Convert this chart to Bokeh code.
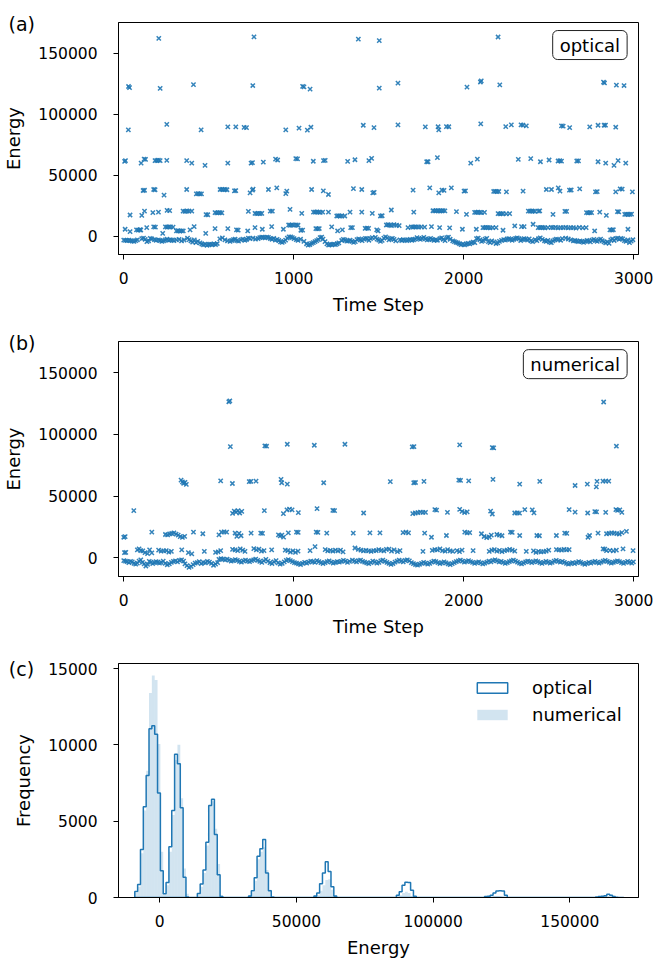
from bokeh.plotting import figure
from bokeh.models import Range1d, FixedTicker, BasicTickFormatter, Label, Legend, LegendItem
from bokeh.layouts import column
from bokeh.embed import file_html
from bokeh.resources import INLINE

BLUE = "#1f77b4"
FONT = "DejaVu Sans"

# ---------------- panel (a): optical, (time step, energy) per energy level ----------------
opt_L7 = [(206,162300),(766,163500),(1380,161700),(1503,160500),(2202,163400)]
opt_L6 = [(28,122800),(34,121900),(214,121200),(410,124400),(759,123600),(1052,122900),(1060,122500),
          (1096,120600),(1503,121400),(1613,125500),(2019,122300),(2098,126500),(2103,127400),(2212,124200),
          (2822,126400),(2828,125700),(2898,123900),(2943,123600)]
opt_L5 = [(27,87200),(253,91800),(455,87200),(612,89700),(659,89700),(708,89300),(722,89000),(953,87200),
          (1031,88600),(1080,87000),(1101,89400),(1409,91000),(1472,89100),(1613,91300),(1774,89700),
          (1849,89800),(1853,87200),(1898,89900),(1912,89800),(2100,92100),(2247,89900),(2280,91300),
          (2337,91400),(2348,91200),(2368,90500),(2575,90500),(2585,90300),(2623,89100),(2741,89700),
          (2790,91000),(2826,91000),(2834,91100),(2894,89400)]
opt_L4 = [(5,61400),(10,62000),(102,60000),(120,63300),(128,63000),(184,62000),(194,62100),(204,62300),
          (214,62000),(253,62200),(370,62000),(400,60000),(478,58100),(612,60000),(749,60000),(757,60300),
          (821,60800),(893,63300),(905,62500),(1012,63600),(1022,63400),(1115,61500),(1175,62000),
          (1185,62200),(1317,61400),(1360,62700),(1442,62000),(1458,63900),(1782,61100),(1790,61100),
          (1845,64400),(2041,60000),(2080,63300),(2321,63000),(2394,63600),(2451,61100),(2502,62500),
          (2555,61700),(2565,61900),(2575,61600),(2665,61700),(2675,61800),(2790,61100),(2835,60000),
          (2884,58100),(2908,62000),(2953,60000)]
opt_L3 = [(114,37500),(122,37700),(176,38300),(184,38100),(237,33700),(370,38300),(427,34800),(437,34900),
          (447,34700),(457,34800),(567,38300),(577,38400),(587,38200),(597,38300),(607,38100),(651,37200),
          (659,37400),(743,35600),(757,37800),(761,38600),(851,38300),(900,39700),(953,35000),(959,37000),
          (1105,38300),(1174,37200),(1204,34200),(1351,39100),(1400,38300),(1465,35600),(1473,35900),
          (1702,37800),(1800,39700),(1853,35600),(1872,37800),(1884,37600),(1927,39700),(2002,37000),
          (2010,37200),(2176,36700),(2186,36800),(2196,36600),(2206,36700),(2251,36400),(2349,37000),
          (2486,38300),(2516,38300),(2556,39700),(2566,37000),(2622,37800),(2632,37900),(2682,38900),
          (2775,36400),(2785,36600),(2894,36400),(2920,38900),(2932,38700),(2992,36400)]
opt_L2 = [(37,17400),(106,17100),(122,20600),(171,19300),(204,19800),(255,21200),(270,21000),(349,20600),
          (360,20400),(372,20700),(384,20500),(400,20600),(484,17700),(494,17600),(537,19300),(547,19200),
          (557,19400),(567,19300),(577,19100),(733,20400),(772,18700),(782,18500),(792,18800),(802,18600),
          (812,18700),(862,20600),(874,20500),(978,22000),(1047,18700),(1116,19800),(1126,19700),
          (1136,19900),(1146,19800),(1156,19600),(1170,19800),(1204,19800),(1253,16600),(1263,16800),
          (1273,16500),(1283,16700),(1300,16600),(1331,19800),(1400,19800),(1462,18700),(1510,16600),
          (1520,16800),(1574,21500),(1706,19800),(1819,20900),(1829,20800),(1839,21000),(1849,20900),
          (1859,20700),(1869,20900),(1879,21000),(1889,20800),(1957,20100),(2016,17900),(2064,19600),
          (2074,19500),(2084,19700),(2094,19600),(2104,19400),(2122,19600),(2202,18500),(2212,18400),
          (2222,18600),(2232,18500),(2250,18300),(2270,18500),(2380,20600),(2390,20500),(2400,20700),
          (2410,20600),(2420,20400),(2440,20600),(2447,20800),(2525,17900),(2595,20400),(2605,20300),
          (2722,19300),(2732,19200),(2742,19400),(2752,19300),(2800,19800),(2839,17100),(2904,20100),
          (2912,20000),(2947,17900),(2957,18000),(2967,17800),(2977,17900),(2987,18100)]
opt_L1 = [(8,5700),(37,3800),(75,5200),(85,5000),(95,5300),(100,5100),(135,7100),(176,7600),(186,7500),
          (229,2400),(245,7600),(255,7500),(265,7700),(275,7600),(290,7400),(310,4300),(320,4500),
          (330,4200),(340,4400),(350,4300),(390,5200),(414,7900),(482,2400),(537,6200),(612,6200),
          (663,5200),(673,5000),(729,4300),(772,7100),(815,5700),(870,7900),(939,5700),(970,9200),
          (980,9000),(990,9300),(1000,9100),(1015,9200),(1025,9000),(1042,4900),(1052,5000),(1130,6200),
          (1140,6100),(1150,6300),(1223,7600),(1258,4300),(1286,5200),(1335,7100),(1345,7000),(1420,6500),
          (1430,6600),(1440,6400),(1488,5200),(1496,4300),(1545,9200),(1555,9500),(1565,9100),(1575,8800),
          (1590,9400),(1605,9000),(1620,8700),(1672,7100),(1692,7600),(1702,7500),(1712,7700),(1722,7600),
          (1735,7400),(1750,7700),(1770,7500),(1810,7900),(1858,7100),(1917,6800),(1992,5700),(2074,5700),
          (2113,7100),(2123,7000),(2133,7200),(2143,7100),(2155,6900),(2170,7100),(2190,7000),(2231,4900),
          (2300,8400),(2340,7900),(2355,7800),(2408,9800),(2438,7100),(2448,7000),(2458,7200),(2468,7100),
          (2478,6900),(2495,7100),(2515,7200),(2526,7000),(2540,7300),(2555,6900),(2570,7100),(2585,7000),
          (2600,7200),(2615,6800),(2630,7100),(2645,7000),(2660,6700),(2680,7200),(2700,6900),(2720,7100),
          (2770,4300),(2860,5200),(2870,5100),(2880,5300),(2966,5700)]
opt_L0 = [(0,-3200),(10,-3400),(20,-3500),(30,-3300),(40,-3600),(50,-4100),(60,-4300),(70,-3600),(80,-3000),
          (106,-2000),(116,-1500),(126,-2600),(136,-4500),(146,-3800),(156,-1800),(165,-2200),(180,-2800),
          (190,-3300),(204,-3000),(214,-3500),(224,-4200),(234,-3800),(244,-3000),(254,-2500),(264,-3400),
          (274,-2900),(285,-3200),(295,-3600),(310,-3000),(325,-2600),(340,-3900),(355,-3100),(375,-1500),
          (385,-2800),(395,-3900),(405,-4800),(415,-3000),(425,-5200),(435,-4300),(449,-5500),(459,-6400),
          (469,-7000),(479,-6500),(490,-7400),(500,-6800),(510,-6600),(520,-7000),(530,-6300),(540,-6800),
          (550,-6000),(565,-2200),(580,-1400),(595,-3000),(610,-3800),(625,-4200),(635,-3500),(645,-2800),
          (655,-2500),(665,-3600),(675,-4100),(690,-3000),(700,-2400),(712,-3300),(722,-2700),(733,-1600),
          (743,-2000),(760,-1500),(775,-2400),(790,-2000),(800,-1100),(811,-700),(821,-900),(831,-1400),
          (841,-800),(851,-1000),(862,-1900),(872,-2500),(882,-1800),(892,-3200),(902,-2600),(912,-3500),
          (922,-4700),(932,-5000),(942,-4300),(952,-3200),(962,-1500),(972,-600),(982,-500),(992,-1200),
          (1002,-2000),(1015,-2800),(1025,-3400),(1040,-2500),(1060,-4200),(1075,-6200),(1085,-7300),
          (1095,-6800),(1105,-5900),(1115,-5200),(1125,-4500),(1135,-3600),(1145,-2800),(1155,-1200),
          (1164,-800),(1172,-2400),(1184,-4500),(1195,-6300),(1205,-7200),(1215,-6800),(1225,-7000),
          (1235,-6500),(1245,-6900),(1255,-6200),(1265,-5500),(1282,-3500),(1292,-2600),(1302,-3100),
          (1312,-4000),(1322,-3800),(1332,-3300),(1342,-4200),(1352,-5100),(1362,-4500),(1372,-2800),
          (1382,-2200),(1392,-3000),(1402,-3600),(1412,-2400),(1422,-1700),(1432,-2100),(1442,-3300),
          (1452,-1900),(1462,-1100),(1480,-900),(1490,-2400),(1500,-3100),(1510,-4200),(1520,-3400),
          (1530,-1600),(1540,-500),(1550,-1300),(1560,-3000),(1570,-2200),(1580,-1700),(1590,-2600),
          (1600,-3800),(1625,-3000),(1635,-3500),(1645,-2800),(1655,-3200),(1665,-3600),(1675,-3000),
          (1685,-2600),(1695,-3300),(1705,-2900),(1715,-2400),(1725,-1200),(1735,-2000),(1745,-2600),
          (1755,-1800),(1765,-1000),(1775,-2200),(1785,-3000),(1795,-2500),(1805,-1800),(1815,-2700),
          (1825,-3400),(1835,-2900),(1845,-3300),(1860,-2000),(1870,-1400),(1880,-2600),(1890,-3600),
          (1900,-1200),(1910,-800),(1920,-2500),(1935,-3800),(1945,-4500),(1955,-5000),(1965,-5500),
          (1975,-6200),(1985,-6900),(1995,-6500),(2005,-7100),(2015,-6400),(2025,-5800),(2035,-6300),
          (2045,-5500),(2055,-4800),(2065,-5200),(2075,-2000),(2085,-1500),(2095,-3000),(2105,-4200),
          (2115,-3600),(2125,-2400),(2135,-1800),(2145,-4500),(2155,-5200),(2165,-3800),(2178,-4600),
          (2190,-6000),(2200,-5400),(2210,-4200),(2222,-3400),(2235,-2800),(2245,-3200),(2255,-2300),
          (2265,-2000),(2275,-2600),(2285,-3300),(2295,-2500),(2305,-1800),(2315,-1300),(2325,-2100),
          (2335,-3500),(2345,-2700),(2355,-1900),(2365,-2400),(2375,-3100),(2385,-2200),(2395,-3800),
          (2405,-4400),(2420,-2900),(2430,-3600),(2440,-2000),(2450,-1400),(2462,-2600),(2475,-3700),
          (2485,-4300),(2495,-3400),(2505,-4800),(2515,-5300),(2525,-3900),(2535,-3000),(2545,-2400),
          (2555,-2800),(2570,-3300),(2580,-2000),(2600,-1500),(2615,-2300),(2630,-3000),(2645,-3800),
          (2655,-3500),(2665,-4000),(2675,-4400),(2685,-3900),(2695,-4500),(2705,-5000),(2715,-4300),
          (2725,-3500),(2735,-3800),(2745,-4600),(2755,-3200),(2765,-2600),(2775,-3600),(2785,-4200),
          (2795,-3100),(2805,-2400),(2815,-3700),(2825,-4700),(2835,-5500),(2845,-4600),(2855,-5800),
          (2865,-3000),(2875,-2200),(2885,-3500),(2895,-2000),(2905,-1500),(2915,-2600),(2925,-1800),
          (2935,-2200),(2945,-3600),(2955,-4200),(2965,-3000),(2975,-5200),(2985,-4000),(2995,-2900)]

# ---------------- panel (b): numerical ----------------
num_L7 = [(618,126500),(624,127200),(2823,126300)]
num_L5 = [(627,90200),(830,90700),(840,90500),(962,92100),(1121,91300),(1301,92100),(1697,89900),
          (1707,90100),(1976,91600),(2168,89400),(2176,89200),(2898,90500)]
num_L4 = [(337,63000),(345,61600),(352,60500),(360,61200),(368,59600),(570,62500),(639,60300),(738,61900),
          (748,62100),(778,62200),(925,63600),(929,60900),(962,59800),(1176,60900),(1568,61900),(1706,60900),
          (1716,61100),(1766,62000),(1971,63000),(1981,62800),(2029,62500),(2172,63600),(2329,59800),
          (2447,62000),(2655,58700),(2727,59800),(2780,57600),(2784,62000),(2819,62200),(2835,62300),
          (2853,62200)]
num_L3 = [(59,38300),(640,36100),(650,38000),(660,37200),(672,38300),(682,36400),(694,37800),(827,38300),
          (939,35900),(960,39000),(975,39500),(990,38900),(1027,36700),(1137,39900),(1230,38600),(1240,38400),
          (1411,36400),(1700,35900),(1715,36400),(1730,36700),(1745,37200),(1760,37000),(1775,36900),
          (1830,39100),(1840,38800),(1904,37000),(1976,39400),(1990,37800),(2005,36800),(2020,37300),
          (2158,38000),(2168,35600),(2300,36400),(2315,36500),(2328,36300),(2359,39100),(2403,39000),
          (2413,36500),(2620,39100),(2655,37200),(2729,36400),(2771,37500),(2781,37300),(2835,37000),
          (2895,39200),(2905,38600),(2918,39000),(2930,37000)]
num_L2 = [(0,16800),(8,17300),(165,20900),(245,19000),(258,18700),(270,19500),(282,19800),(295,20300),
          (308,19300),(320,18500),(332,17300),(345,16700),(358,17500),(410,20900),(465,19600),(560,18700),
          (575,20900),(590,21200),(605,21000),(655,20200),(665,17500),(678,20000),(690,18000),(749,20100),
          (806,20100),(816,19900),(910,18700),(920,17900),(930,18500),(940,16900),(968,20400),(1016,20900),
          (1026,20700),(1132,20900),(1142,20700),(1194,20100),(1350,20100),(1448,20400),(1507,20400),
          (1643,20600),(1660,21000),(1675,20300),(1770,20100),(1810,16800),(1898,18200),(2006,20900),
          (2020,20400),(2035,20600),(2104,19600),(2120,17400),(2135,16500),(2150,17000),(2162,18500),
          (2195,19000),(2210,18500),(2225,18000),(2275,20900),(2285,20700),(2329,18200),(2430,18200),
          (2445,18000),(2545,18200),(2594,20100),(2606,19900),(2731,16800),(2740,18200),(2790,20100),
          (2840,19600),(2855,19900),(2870,20300),(2885,20100),(2900,19700),(2915,19400),(2930,20600),
          (2957,21500)]
num_L1 = [(4,4300),(12,4500),(80,6500),(90,7300),(100,6000),(112,5800),(125,4300),(140,3500),(152,6500),
          (165,4200),(205,6400),(220,5600),(235,5800),(250,6000),(265,4800),(280,5300),(341,6500),(380,4300),
          (400,3300),(474,5400),(540,4600),(555,5000),(570,6000),(640,7000),(655,6500),(670,6000),(685,7300),
          (700,6300),(713,5400),(765,7500),(780,6600),(795,7200),(810,5600),(825,6000),(870,6500),(950,6300),
          (965,5900),(980,4800),(995,5800),(1010,4500),(1025,5500),(1096,6000),(1125,9200),(1185,6700),
          (1200,5800),(1215,6200),(1230,5500),(1245,6300),(1260,5700),(1275,6400),(1290,5000),(1360,8100),
          (1380,7000),(1395,6400),(1410,5800),(1425,6200),(1440,5800),(1455,5300),(1470,6000),(1485,5900),
          (1500,6800),(1515,6100),(1530,5700),(1545,7000),(1560,7200),(1575,5500),(1590,6600),(1610,5200),
          (1625,6000),(1760,5400),(1815,6200),(1830,6800),(1845,6500),(1860,7400),(1875,6000),(1890,5500),
          (1905,6700),(1920,5800),(1935,5300),(1960,6000),(1975,5200),(1990,6300),(2055,6000),(2150,5300),
          (2165,6400),(2180,6700),(2195,5500),(2210,6100),(2225,5200),(2240,5900),(2255,6300),(2270,7000),
          (2285,6400),(2300,5600),(2368,5400),(2410,5800),(2425,4500),(2440,5300),(2455,4900),(2470,5100),
          (2485,5600),(2500,6300),(2545,6800),(2560,6600),(2575,6400),(2590,6900),(2605,6500),(2620,6700),
          (2820,7300),(2830,7100),(2840,6000),(2860,6200),(2880,5800),(2898,6300),(2937,7300),(2996,6000)]
num_L0 = [(0,-2200),(10,-2600),(20,-3000),(30,-3800),(40,-2700),(50,-3200),(60,-4300),(70,-5000),(80,-4200),
          (90,-2500),(100,-1500),(110,-3600),(120,-4800),(130,-6500),(140,-5200),(150,-2800),(160,-3400),
          (170,-4500),(180,-3800),(190,-2900),(200,-3300),(210,-4100),(220,-3500),(232,-2600),(244,-4300),
          (256,-5500),(268,-4700),(280,-3600),(292,-2800),(304,-2400),(316,-3100),(328,-2000),(340,-1500),
          (352,-2500),(360,-4800),(372,-6200),(384,-7600),(396,-6800),(408,-5400),(420,-4100),(432,-3700),
          (444,-3000),(456,-4600),(468,-3500),(480,-3900),(492,-2800),(504,-3300),(516,-4400),(528,-5900),
          (540,-5000),(552,-3800),(560,-1200),(572,-600),(584,-1000),(596,-1600),(608,-900),(620,-1800),
          (632,-2500),(644,-2200),(656,-1400),(668,-2000),(680,-2800),(692,-3300),(704,-2300),(716,-1700),
          (728,-2500),(740,-3000),(752,-2100),(764,-1500),(776,-900),(788,-2000),(800,-2800),(812,-3600),
          (824,-2400),(836,-1200),(848,-2600),(860,-3800),(872,-4500),(884,-3200),(896,-2200),(908,-3900),
          (920,-5000),(932,-4300),(944,-3100),(956,-2000),(968,-1400),(980,-2200),(992,-3000),(1004,-3800),
          (1016,-4200),(1028,-4800),(1040,-5300),(1052,-4400),(1064,-3600),(1076,-4100),(1088,-3300),
          (1100,-2500),(1112,-2900),(1124,-3500),(1136,-2200),(1148,-3000),(1160,-3800),(1172,-4500),
          (1184,-3700),(1196,-3000),(1208,-2400),(1220,-3300),(1232,-4100),(1244,-3600),(1256,-2900),
          (1268,-3400),(1280,-2700),(1292,-2000),(1304,-2600),(1316,-3500),(1328,-2800),(1345,-1800),
          (1357,-2500),(1369,-3100),(1381,-2200),(1393,-1700),(1405,-2700),(1417,-3300),(1429,-4000),
          (1441,-4600),(1453,-3700),(1465,-2600),(1477,-3200),(1489,-4100),(1501,-3500),(1512,-2400),
          (1524,-1800),(1536,-2800),(1548,-3500),(1560,-4400),(1572,-5200),(1584,-4500),(1596,-3300),
          (1608,-2500),(1620,-1800),(1632,-2600),(1644,-3100),(1656,-2000),(1668,-1500),(1680,-2400),
          (1692,-3800),(1704,-4600),(1716,-5300),(1728,-5800),(1740,-5100),(1752,-4400),(1764,-3600),
          (1776,-4200),(1788,-5000),(1800,-4300),(1812,-3300),(1824,-2500),(1836,-3000),(1848,-3800),
          (1860,-4500),(1872,-3900),(1884,-3200),(1896,-4000),(1908,-4800),(1920,-5400),(1932,-4600),
          (1944,-3700),(1956,-2900),(1968,-2300),(1980,-1800),(1992,-2600),(2004,-3400),(2016,-2800),
          (2028,-2200),(2040,-3000),(2052,-3600),(2064,-4300),(2076,-3700),(2088,-3100),(2100,-4000),
          (2112,-4800),(2124,-4200),(2136,-3400),(2148,-2600),(2160,-3100),(2172,-2200),(2184,-1600),
          (2196,-2400),(2208,-3200),(2220,-2700),(2232,-3500),(2244,-4400),(2256,-3800),(2268,-3000),
          (2280,-2300),(2292,-1700),(2304,-2500),(2316,-3300),(2328,-4100),(2340,-4700),(2352,-3900),
          (2364,-3100),(2376,-2500),(2388,-3000),(2400,-3800),(2412,-3200),(2424,-2400),(2436,-2900),
          (2448,-3700),(2460,-4400),(2472,-3600),(2484,-2800),(2496,-3400),(2508,-4200),(2520,-3500),
          (2532,-2600),(2544,-2000),(2556,-2700),(2568,-3300),(2580,-2700),(2592,-3500),(2604,-4300),
          (2616,-5000),(2628,-4400),(2640,-3700),(2652,-4500),(2664,-3800),(2676,-3000),(2688,-3600),
          (2700,-4400),(2712,-5100),(2724,-4300),(2736,-3500),(2748,-4200),(2760,-3400),(2772,-2800),
          (2784,-3500),(2796,-4100),(2808,-3300),(2820,-2500),(2832,-1900),(2844,-2700),(2856,-3400),
          (2868,-4200),(2880,-3600),(2892,-2900),(2904,-2300),(2916,-3000),(2928,-3700),(2940,-4300),
          (2952,-3500),(2964,-2800),(2976,-3400),(2988,-4100),(2998,-3200)]

# ---------------- panel (c): histogram (bin width, first edge, counts per bin) ----------------
hist_first_edge = -9140
hist_bin_width = 1040
optical_counts = [
    400, 850, 3150, 5950, 8000, 11050, 11250, 10700, 6850, 1750, 250,        # bins 0-10
    990, 3330, 5700, 9390, 8770, 5880, 1320, 40,                             # 11-18
    0, 0, 0,                                                                 # 19-21
    260, 880, 1800, 3620, 6030, 6430, 4120, 1490, 65,                        # 22-30
    0, 0, 0, 0, 0, 0, 0, 0, 0,                                               # 31-39
    100, 450, 1300, 2700, 3200, 3800, 1600, 450, 40,                         # 40-48
    0, 0, 0, 0, 0, 0, 0, 0, 0, 0, 0, 0, 0, 0,                                # 49-62
    100, 300, 900, 1600, 2350, 1700, 700, 100,                               # 63-70
    0, 0, 0, 0, 0, 0, 0, 0, 0, 0, 0, 0, 0, 0, 0, 0, 0, 0, 0, 0, 0,           # 71-91
    150, 370, 800, 1000, 980, 480, 90,                                       # 92-98
    0, 0, 0, 0, 0, 0, 0, 0, 0, 0, 0, 0, 0, 0, 0, 0, 0, 0, 0, 0, 0, 0, 0, 0,  # 99-122
    60, 90, 150, 300, 430, 440, 430, 150,                                    # 123-130
    0, 0, 0, 0, 0, 0, 0, 0, 0, 0, 0, 0, 0, 0, 0, 0, 0, 0, 0, 0, 0, 0, 0, 0,
    0, 0, 0, 0, 0, 0, 0,                                                     # 131-161
    40, 60, 90, 110, 220, 150, 60, 20,                                       # 162-169
    0, 0]                                                                    # 170-171
numerical_counts = [
    300, 700, 2900, 5700, 8300, 13400, 14550, 14250, 10050, 3000, 200,
    800, 3000, 5400, 9000, 10000, 6500, 1900, 250,
    0, 0, 0,
    200, 700, 1600, 3400, 6000, 6300, 4500, 2200, 150,
    0, 0, 0, 0, 0, 0, 0, 0, 0,
    80, 350, 1100, 2500, 3000, 3300, 1800, 500, 50,
    0, 0, 0, 0, 0, 0, 0, 0, 0, 0, 0, 0, 0, 0,
    50, 150, 450, 800, 1150, 1200, 500, 100,
    0, 0, 0, 0, 0, 0, 0, 0, 0, 0, 0, 0, 0, 0, 0, 0, 0, 0, 0, 0, 0,
    50, 150, 300, 380, 300, 100, 0,
    0, 0, 0, 0, 0, 0, 0, 0, 0, 0, 0, 0, 0, 0, 0, 0, 0, 0, 0, 0, 0, 0, 0, 0,
    0, 0, 30, 80, 100, 80, 30, 0,
    0, 0, 0, 0, 0, 0, 0, 0, 0, 0, 0, 0, 0, 0, 0, 0, 0, 0, 0, 0, 0, 0, 0, 0,
    0, 0, 0, 0, 0, 0, 0,
    0, 0, 0, 0, 0, 0, 0, 0,
    0, 0]

scatter_ticks_x = [0, 1000, 2000, 3000]
scatter_ticks_y = [0, 50000, 100000, 150000]
hist_ticks_x = [0, 50000, 100000, 150000]
hist_ticks_y = [0, 5000, 10000, 15000]


def style(p, xticks, yticks, xlabel, ylabel):
    p.xgrid.visible = False
    p.ygrid.visible = False
    p.outline_line_color = "black"
    p.outline_line_width = 1
    p.outline_line_alpha = 1
    p.background_fill_color = "white"
    p.border_fill_color = "white"
    p.xaxis.ticker = FixedTicker(ticks=xticks)
    p.yaxis.ticker = FixedTicker(ticks=yticks)
    p.xaxis.formatter = BasicTickFormatter(use_scientific=False)
    p.yaxis.formatter = BasicTickFormatter(use_scientific=False)
    p.xaxis.axis_label = xlabel
    p.yaxis.axis_label = ylabel
    for ax in (p.xaxis[0], p.yaxis[0]):
        ax.axis_line_color = "black"
        ax.axis_line_width = 1
        ax.major_tick_line_color = "black"
        ax.major_tick_line_width = 1
        ax.major_tick_out = 5
        ax.major_tick_in = 0
        ax.minor_tick_line_color = None
        ax.major_label_text_font = FONT
        ax.major_label_text_font_size = "15.5px"
        ax.major_label_text_color = "black"
        ax.axis_label_text_font = FONT
        ax.axis_label_text_font_size = "18px"
        ax.axis_label_text_font_style = "normal"
        ax.axis_label_text_color = "black"
    p.xaxis[0].major_label_standoff = 12
    p.yaxis[0].major_label_standoff = 16
    p.xaxis[0].axis_label_standoff = 7
    p.yaxis[0].axis_label_standoff = 11


def tag(p, x, y, text):
    # placed in the top side panel so that it is not clipped to the plot frame
    p.add_layout(Label(x=x, y=y, text=text, text_font=FONT, text_font_size="19px",
                       text_color="black", text_align="left", text_baseline="top"), "above")


def scatter_panel(levels, tagtext, boxtext, height, bottom):
    p = figure(width=656, height=height, x_range=Range1d(-31, 3028), y_range=Range1d(-15000, 175300),
               output_backend="svg", toolbar_location=None,
               min_border_left=118, min_border_right=18, min_border_top=20, min_border_bottom=bottom)
    ts = [pt[0] for lvl in levels for pt in lvl]
    es = [pt[1] for lvl in levels for pt in lvl]
    p.scatter(ts, es, marker="x", size=6, line_color=BLUE, line_width=1.5, line_alpha=0.9)
    style(p, scatter_ticks_x, scatter_ticks_y, "Time Step", "Energy")
    tag(p, -678, 182800, tagtext)
    p.add_layout(Label(x=2961, y=168700, text=boxtext, text_font=FONT, text_font_size="18px",
                       text_color="black", text_align="right", text_baseline="top",
                       background_fill_color="white", border_line_color="#222222",
                       border_line_width=1, border_radius=5, padding=dict(x=7, y=4)))
    return p


pa = scatter_panel([opt_L0, opt_L1, opt_L2, opt_L3, opt_L4, opt_L5, opt_L6, opt_L7], "(a)", "optical", 319, 65)
pb = scatter_panel([num_L0, num_L1, num_L2, num_L3, num_L4, num_L5, num_L7], "(b)", "numerical", 322, 65)

# histogram panel
n_bins = len(optical_counts)
edges = [hist_first_edge + k * hist_bin_width for k in range(n_bins + 1)]

pc = figure(width=656, height=320, x_range=Range1d(-15100, 175100), y_range=Range1d(0, 15330),
            output_backend="svg", toolbar_location=None,
            min_border_left=118, min_border_right=18, min_border_top=20, min_border_bottom=64)

r_num = pc.quad(left=edges[:-1], right=edges[1:], bottom=0, top=numerical_counts,
                fill_color=BLUE, fill_alpha=0.2, line_color=None)

step_x = [edges[0]]
step_y = [0]
for i, c in enumerate(optical_counts):
    step_x += [edges[i], edges[i + 1]]
    step_y += [c, c]
step_x.append(edges[-1])
step_y.append(0)
r_opt = pc.patch(step_x, step_y, fill_color="white", fill_alpha=0, line_color=BLUE, line_width=1.5)

style(pc, hist_ticks_x, hist_ticks_y, "Energy", "Frequency")
tag(pc, -55200, 15690, "(c)")

legend = Legend(items=[LegendItem(label="optical", renderers=[r_opt]),
                       LegendItem(label="numerical", renderers=[r_num])],
                location="top_right", border_line_color=None, background_fill_alpha=0,
                label_text_font=FONT, label_text_font_size="18px", label_text_color="black",
                glyph_width=38, glyph_height=13, label_standoff=21, spacing=6,
                padding=10, margin=14, label_width=92)
pc.add_layout(legend)

layout = column(pa, pb, pc)
open("out.html", "w").write(file_html(layout, INLINE))
